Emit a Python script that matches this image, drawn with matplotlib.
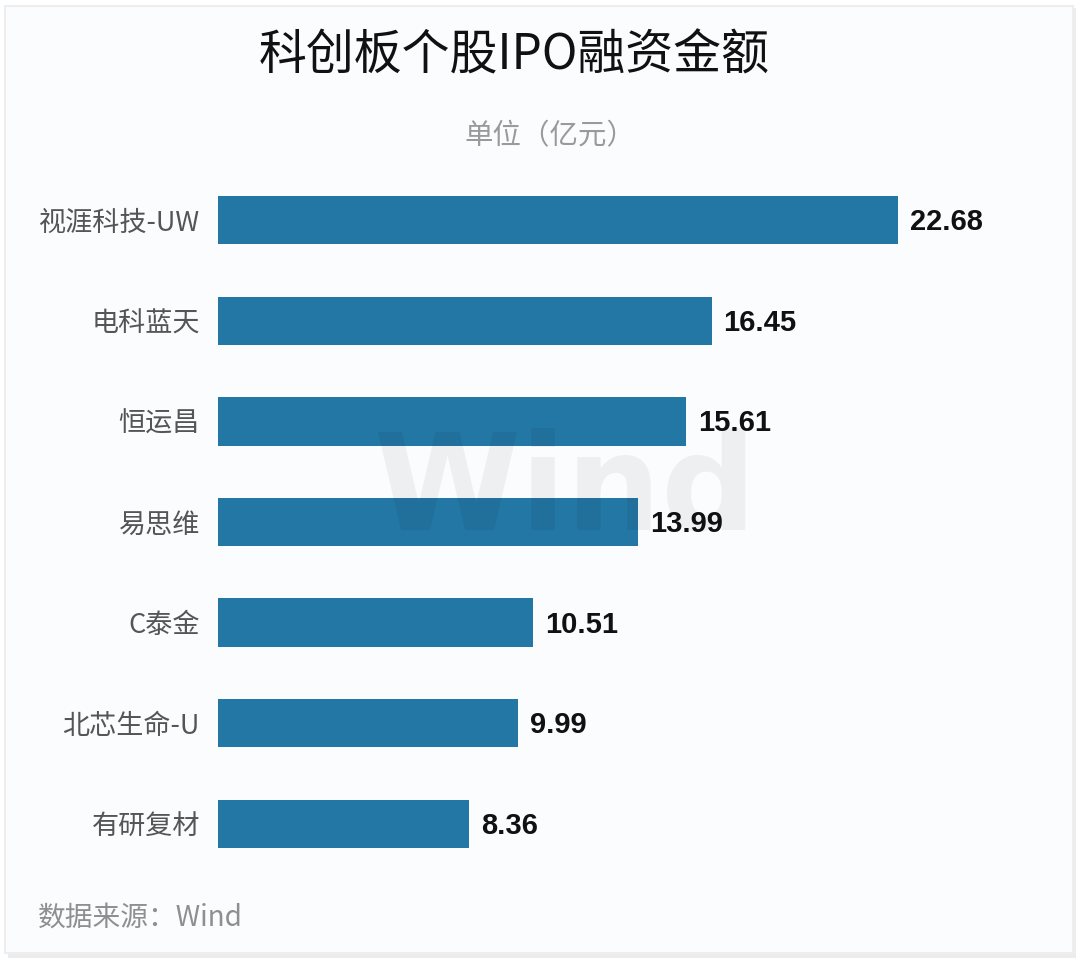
import matplotlib
matplotlib.use("Agg")
import matplotlib.pyplot as plt
from matplotlib.patches import Rectangle

plt.rcParams['font.family'] = ['Noto Sans CJK SC', 'DejaVu Sans']

categories = ["视涯科技-UW", "电科蓝天", "恒运昌", "易思维", "C泰金", "北芯生命-U", "有研复材"]
values = [22.68, 16.45, 15.61, 13.99, 10.51, 9.99, 8.36]
title = "科创板个股IPO融资金额"
unit_label = "单位（亿元）"
source_label = "数据来源：Wind"

W, H = 1080, 965
fig = plt.figure(figsize=(W / 100, H / 100), dpi=100)
fig.patch.set_facecolor("white")

# card background with subtle border/shadow
fig.patches.append(Rectangle((8 / W, 1 - 958 / H), 1068 / W, 950 / H, transform=fig.transFigure,
                             facecolor="#ececec", edgecolor="none", zorder=-3))
fig.patches.append(Rectangle((5 / W, 1 - 953 / H), 1068 / W, 947 / H, transform=fig.transFigure,
                             facecolor="#fafcfe", edgecolor="#eeeeee", linewidth=1.5, zorder=-2))

ax = fig.add_axes([218 / W, (H - 874.3) / H, 832 / W, 704.6 / H])
ax.set_facecolor("none")
ypos = list(range(len(categories)))
ax.barh(ypos, values, height=0.48, color="#2277a4", zorder=2)
ax.set_xlim(0, 832 / 30.0)
ax.set_ylim(len(categories) - 0.5, -0.5)
for s in ax.spines.values():
    s.set_visible(False)
ax.set_xticks([])
ax.set_yticks(ypos)
ax.set_yticklabels(categories, fontsize=19.5, color="#555555")
ax.tick_params(axis="y", length=0, pad=13)

for y, v in zip(ypos, values):
    ax.text(v + 0.4, y + 0.02, f"{v:.2f}", va="center", ha="left", fontsize=21,
            fontweight="bold", color="#111111", family=["Liberation Sans", "DejaVu Sans"], zorder=3)

fig.text(514 / W, 1 - 56 / H, title, ha="center", va="center", fontsize=34.5, color="#111111")
fig.text(550 / W, 1 - 136 / H, unit_label, ha="center", va="center", fontsize=20.5, color="#9a9a9a")
fig.text(38 / W, 1 - 918 / H, source_label, ha="left", va="center", fontsize=20, color="#8f8f8f")

# faint watermark
fig.text(565 / W, 1 - 492 / H, "Wind", ha="center", va="center", fontsize=96, fontweight="bold",
         color="#000000", alpha=0.05, family=["DejaVu Sans"], zorder=5)

fig.savefig("out.png", dpi=100, facecolor=fig.get_facecolor())
